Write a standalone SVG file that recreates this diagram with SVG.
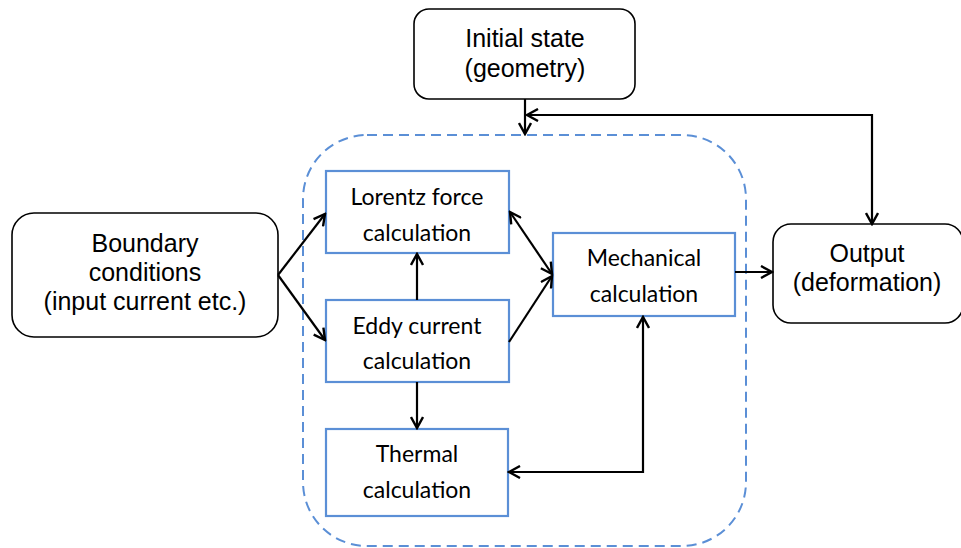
<svg xmlns="http://www.w3.org/2000/svg" width="961" height="548" viewBox="0 0 961 548">
<style>
.bk{fill:#fff;stroke:#000;stroke-width:1.6}
.bl{fill:#fff;stroke:#5B8FD6;stroke-width:2.2}
.ta{font-family:"Liberation Sans",Arial,sans-serif;font-size:25px;fill:#000;text-anchor:middle}
.tc{font-family:Lato,"Open Sans",sans-serif;font-size:23px;fill:#000;text-anchor:middle}
.c{fill:none;stroke:#000;stroke-width:2.2}
</style>
<defs>
<marker id="a" viewBox="0 0 14 14" refX="12" refY="7" markerWidth="14" markerHeight="14" orient="auto-start-reverse" markerUnits="userSpaceOnUse">
<path d="M1,1 L12,7 L1,13" fill="none" stroke="#000" stroke-width="2.4"/>
</marker>
</defs>
<rect id="frame" x="303" y="135" width="443" height="411" rx="64" fill="none" stroke="#5B8FD6" stroke-width="2" stroke-dasharray="10,6"/>
<g id="initial"><rect class="bk" x="414" y="9" width="221" height="90" rx="15"/><text class="ta" x="525" y="47">Initial state</text><text class="ta" x="525" y="77">(geometry)</text></g>
<g id="boundary"><rect class="bk" x="12" y="213" width="266" height="124" rx="22"/><text class="ta" x="145" y="252">Boundary</text><text class="ta" x="145" y="281">conditions</text><text class="ta" x="145" y="310">(input current etc.)</text></g>
<g id="output"><rect class="bk" x="773" y="224" width="190" height="99" rx="18"/><text class="ta" x="867" y="262">Output</text><text class="ta" x="867" y="291">(deformation)</text></g>
<g id="lorentz"><rect class="bl" x="326" y="171" width="183" height="82"/><text class="tc" x="417" y="205">Lorentz force</text><text class="tc" x="417" y="241">calculation</text></g>
<g id="eddy"><rect class="bl" x="326" y="300" width="183" height="82"/><text class="tc" x="417" y="334">Eddy current</text><text class="tc" x="417" y="369">calculation</text></g>
<g id="mechanical"><rect class="bl" x="553" y="233" width="182" height="83"/><text class="tc" x="644" y="266">Mechanical</text><text class="tc" x="644" y="302">calculation</text></g>
<g id="thermal"><rect class="bl" x="326" y="429" width="182" height="87"/><text class="tc" x="417" y="462">Thermal</text><text class="tc" x="417" y="498">calculation</text></g>
<g id="connectors">
<path class="c" d="M525,99 V134" marker-end="url(#a)"/>
<path class="c" d="M527,115 H872 V224" marker-start="url(#a)" marker-end="url(#a)"/>
<path class="c" d="M278,275 L325,214" marker-end="url(#a)"/>
<path class="c" d="M278,275 L325,340" marker-end="url(#a)"/>
<path class="c" d="M417,300 V254" marker-end="url(#a)"/>
<path class="c" d="M510,212 L552,274" marker-start="url(#a)" marker-end="url(#a)"/>
<path class="c" d="M509,342 L552,276" marker-end="url(#a)"/>
<path class="c" d="M417,382 V428" marker-end="url(#a)"/>
<path class="c" d="M643,317 V472 H509" marker-start="url(#a)" marker-end="url(#a)"/>
<path class="c" d="M735,272 H772" marker-end="url(#a)"/>
</g>
</svg>
